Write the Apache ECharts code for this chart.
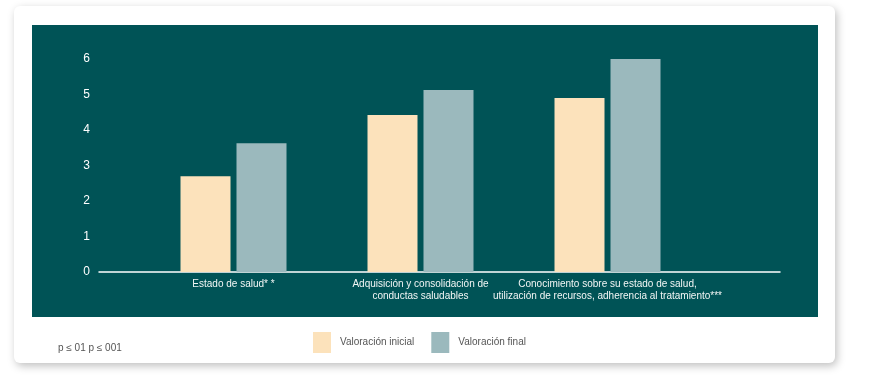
<!DOCTYPE html>
<html>
<head>
<meta charset="utf-8">
<script src="https://cdn.jsdelivr.net/npm/echarts@6/dist/echarts.min.js"></script>
<style>
  html, body { margin: 0; padding: 0; background: #fff; }
  #card {
    position: absolute; left: 14px; top: 6px; width: 821px; height: 357px;
    background: #fff; border-radius: 6px;
    box-shadow: 2px 3px 9px rgba(0, 0, 0, 0.25);
  }
  #panel {
    position: absolute; left: 32px; top: 25px; width: 786px; height: 292px;
    background: #005356;
  }
  #chart { position: absolute; left: 0; top: 0; width: 870px; height: 378px; }
</style>
</head>
<body>
<div id="card"></div>
<div id="panel"></div>
<div id="chart"></div>
<script>
const categories = [
  'Estado de salud* *',
  'Adquisición y consolidación de\nconductas saludables',
  'Conocimiento sobre su estado de salud,\nutilización de recursos, adherencia al tratamiento***'
]
const seriesNames = ['Valoración inicial', 'Valoración final']
const inicial = [2.70, 4.42, 4.90]
const final = [3.63, 5.13, 6.0]
const yTicks = [0, 1, 2, 3, 4, 5, 6]
const note = 'p ≤ 01 p ≤ 001'

const font = '"Liberation Sans Narrow", "Arial Narrow", "Liberation Sans", Arial, sans-serif'
const beige = '#fce2bb'
const grey = '#9bb9bd'

const chart = echarts.init(document.getElementById('chart'))

const option = {
  backgroundColor: 'transparent',
  animation: false,
  grid: [
    { left: 99, right: 90, top: 59, bottom: 106 },
    { left: 140, right: 169, top: 59, bottom: 106 }
  ],
  xAxis: [
    {
      gridIndex: 0,
      type: 'category',
      data: categories,
      axisLine: { lineStyle: { color: '#ffffff', width: 1.5 } },
      axisTick: { show: false },
      axisLabel: { show: false }
    },
    {
      gridIndex: 1,
      type: 'category',
      data: categories,
      axisLine: { show: false },
      axisTick: { show: false },
      axisLabel: {
        color: '#f2f6f5',
        fontFamily: font,
        fontSize: 10,
        lineHeight: 12,
        margin: 6,
        interval: 0
      }
    }
  ],
  yAxis: [
    {
      gridIndex: 0,
      type: 'value',
      min: yTicks[0],
      max: yTicks[yTicks.length - 1],
      interval: 1,
      axisLine: { show: false },
      axisTick: { show: false },
      splitLine: { show: false },
      axisLabel: {
        color: '#ffffff',
        fontFamily: 'Liberation Sans, Arial, sans-serif',
        fontSize: 12,
        margin: 9
      }
    },
    {
      gridIndex: 1,
      type: 'value',
      min: yTicks[0],
      max: yTicks[yTicks.length - 1],
      show: false
    }
  ],
  legend: {
    left: 313,
    top: 332,
    padding: 0,
    itemWidth: 18,
    itemHeight: 21,
    itemGap: 17,
    icon: 'rect',
    data: seriesNames,
    textStyle: {
      color: '#555555',
      fontFamily: font,
      fontSize: 10,
      padding: [0, 0, 0, 4]
    }
  },
  graphic: [
    {
      type: 'text',
      left: 58,
      top: 343,
      style: {
        text: note,
        fill: '#555555',
        font: '10px ' + font
      }
    }
  ],
  series: [
    {
      name: seriesNames[0],
      type: 'bar',
      xAxisIndex: 1,
      yAxisIndex: 1,
      data: inicial,
      barWidth: 50,
      barGap: '12%',
      itemStyle: { color: beige }
    },
    {
      name: seriesNames[1],
      type: 'bar',
      xAxisIndex: 1,
      yAxisIndex: 1,
      data: final,
      barWidth: 50,
      barGap: '12%',
      itemStyle: { color: grey }
    }
  ]
}

chart.setOption(option)
</script>
</body>
</html>
